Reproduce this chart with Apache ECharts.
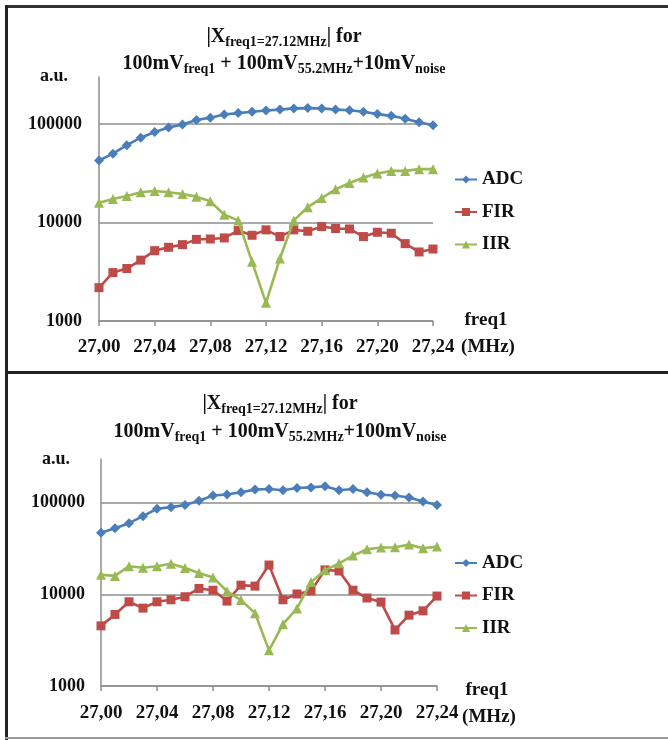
<!DOCTYPE html>
<html>
<head>
<meta charset="utf-8">
<script src="https://cdn.jsdelivr.net/npm/echarts@6/dist/echarts.min.js"></script>
<style>
html,body{margin:0;padding:0;background:#fff;}
#chart{width:668px;height:740px;}
</style>
</head>
<body>
<div id="chart"></div>
<script>
// ---- data ----
const freqLabels = ['27,00','27,01','27,02','27,03','27,04','27,05','27,06','27,07','27,08','27,09','27,10','27,11','27,12','27,13','27,14','27,15','27,16','27,17','27,18','27,19','27,20','27,21','27,22','27,23','27,24'];
const yTickValues = [1000, 10000, 100000];

// panel 1: 100mV freq1 + 100mV 55.2MHz + 10mV noise
const adc1 = [42600,50000,61000,72600,83000,92000,98600,110000,116000,125000,129000,133000,137000,140000,144000,145000,144000,140000,138000,133000,126000,121000,113000,104000,97000];
const fir1 = [2180,3100,3410,4150,5180,5600,5960,6740,6800,6970,8280,7420,8420,7200,8420,8150,9100,8690,8600,7200,7960,7780,6100,5020,5380];
const iir1 = [15900,17300,18600,20300,20900,20300,19500,18300,16400,12000,10500,3990,1530,4310,10500,14300,17700,21700,25200,28600,31400,33400,33400,34800,34800];

// panel 2: 100mV freq1 + 100mV 55.2MHz + 100mV noise
const adc2 = [46900,52700,59800,71300,85900,89500,94200,105000,120000,123000,130000,139000,141000,137000,145000,147000,151000,137000,141000,130000,122000,120000,114000,103000,94200];
const fir2 = [4530,6040,8300,7080,8300,8730,9420,11600,11100,8450,12600,12300,20900,8730,10100,10900,18500,18000,11100,9120,8240,4090,5930,6610,9580];
const iir2 = [16400,15900,20300,19500,20300,21600,19400,17100,15300,10800,8660,6240,2450,4730,7030,13600,18300,21800,26500,31100,32400,32700,34900,31900,33200];

const seriesNames = ['ADC','FIR','IIR'];
const seriesColors = ['#4A7EBB','#BE4B48','#98B954'];
const seriesSymbols = ['diamond','rect','triangle'];
const symbolSizes = [10,9,10];

// ---- chart ----
const FONT = '"Liberation Serif", "Times New Roman", serif';
const GRAY = '#8e8e8e';
const chart = echarts.init(document.getElementById('chart'), null, {renderer:'canvas'});

function isPow10(v){ const l = Math.log10(v); return Math.abs(l - Math.round(l)) < 1e-6; }

function xAxisCfg(gi, margin){
  return {
    type:'category', gridIndex:gi, data:freqLabels, boundaryGap:false,
    axisLine:{show:true, lineStyle:{color:GRAY, width:1.5}},
    axisTick:{show:true, interval:3, length:5, lineStyle:{color:GRAY, width:1.5}},
    axisLabel:{interval:3, margin:margin, color:'#111', fontFamily:FONT, fontWeight:'bold', fontSize:19},
    splitLine:{show:false}
  };
}
function yAxisCfg(gi, margin){
  return {
    type:'log', logBase:10, gridIndex:gi, min:1000, max:300000,
    axisLine:{show:true, lineStyle:{color:GRAY, width:1.5}},
    axisTick:{show:false},
    axisLabel:{margin:margin, color:'#111', fontFamily:FONT, fontWeight:'bold', fontSize:18,
      showMaxLabel:false,
      formatter:function(v){ return (isPow10(v) && yTickValues.indexOf(Math.round(v))>=0) ? String(Math.round(v)) : ''; }},
    splitLine:{show:true, showMinLine:false, showMaxLine:false, lineStyle:{color:GRAY, width:1.5}}
  };
}
function mkSeries(gi, arrs){
  return arrs.map(function(arr, i){
    return {
      name:seriesNames[i], type:'line', xAxisIndex:gi, yAxisIndex:gi,
      data:arr, symbol:seriesSymbols[i], symbolSize:symbolSizes[i], showAllSymbol:true,
      lineStyle:{color:seriesColors[i], width:2.6},
      itemStyle:{color:seriesColors[i]},
      animation:false, z:3+i
    };
  });
}
function legendCfg(top){
  return {
    orient:'vertical', left:454, top:top, padding:0, itemGap:12.5, itemWidth:22, itemHeight:10,
    data:seriesNames,
    textStyle:{fontFamily:FONT, fontWeight:'bold', fontSize:19, color:'#111', lineHeight:20}
  };
}
function titleLines(cx, y1, y2, noise){
  const base = {fontFamily:FONT, fontWeight:'bold', fontSize:20, lineHeight:24, fill:'#111'};
  const rich = {s:{fontFamily:FONT, fontWeight:'bold', fontSize:14, lineHeight:10, verticalAlign:'bottom', fill:'#111'}};
  return [
    {type:'text', x:cx, y:y1, style:Object.assign({}, base, {text:'|X{s|freq1=27.12MHz}| for', align:'center', verticalAlign:'middle', rich:rich})},
    {type:'text', x:cx, y:y2, style:Object.assign({}, base, {text:'100mV{s|freq1} + 100mV{s|55.2MHz}+'+noise+'mV{s|noise}', align:'center', verticalAlign:'middle', rich:rich})}
  ];
}
function plainText(x, y, t, size){
  return {type:'text', x:x, y:y, style:{text:t, fontFamily:FONT, fontWeight:'bold', fontSize:size, fill:'#111', align:'center', verticalAlign:'middle'}};
}

const graphics = [].concat(
  titleLines(284, 37, 64, '10'),
  titleLines(280, 404, 432, '100'),
  [
    plainText(54, 76, 'a.u.', 18),
    plainText(56, 459, 'a.u.', 18),
    plainText(486, 320, 'freq1', 19),
    plainText(488, 347, '(MHz)', 19),
    plainText(487, 690, 'freq1', 19),
    plainText(489, 717, '(MHz)', 19),
    // panel frames
    {type:'rect', shape:{x:5, y:5, width:663, height:3}, style:{fill:'#333'}},
    {type:'rect', shape:{x:5, y:5, width:3, height:735}, style:{fill:'#222'}},
    {type:'rect', shape:{x:5, y:371, width:663, height:3}, style:{fill:'#222'}},
    {type:'rect', shape:{x:5, y:737, width:663, height:2}, style:{fill:'#999'}}
  ]
);

chart.setOption({
  backgroundColor:'#fff',
  animation:false,
  grid:[
    {left:99, right:235, top:77, bottom:419},
    {left:101, right:231, top:459, bottom:54}
  ],
  xAxis:[xAxisCfg(0,17), xAxisCfg(1,18)],
  yAxis:[yAxisCfg(0,17), yAxisCfg(1,16)],
  legend:[legendCfg(169.5), legendCfg(553)],
  series:[].concat(mkSeries(0,[adc1,fir1,iir1]), mkSeries(1,[adc2,fir2,iir2])),
  graphic:graphics
});
</script>
</body>
</html>
